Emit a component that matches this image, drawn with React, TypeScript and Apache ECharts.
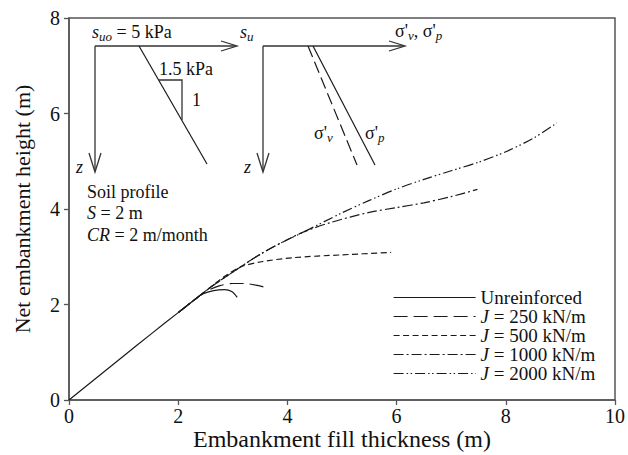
import React, { useEffect, useRef } from "react";
import * as echarts from "echarts";

const SERIF = "'Liberation Serif', 'Times New Roman', serif";

const seriesNames = [
  "Unreinforced",
  "J = 250 kN/m",
  "J = 500 kN/m",
  "J = 1000 kN/m",
  "J = 2000 kN/m",
];

// Unreinforced curve (from the origin); reinforced curves follow it and
// are listed from a point shortly before they leave it.
const unreinforced = [
  [0, 0], [0.5, 0.46], [1, 0.92], [1.5, 1.38], [2, 1.83], [2.3, 2.1], [2.45, 2.22],
  [2.65, 2.29], [2.85, 2.31], [2.98, 2.27], [3.08, 2.15],
];
const j250 = [
  [2, 1.83], [2.3, 2.1], [2.5, 2.27], [2.75, 2.39], [3.0, 2.44], [3.2, 2.44], [3.45, 2.4], [3.62, 2.35],
];
const j500 = [
  [2, 1.83], [2.3, 2.1], [2.58, 2.35], [2.8, 2.55], [3.13, 2.78], [3.5, 2.89], [4.1, 2.98],
  [5, 3.04], [5.9, 3.09],
];
const j1000 = [
  [2, 1.83], [2.3, 2.1], [2.58, 2.35], [3, 2.68], [3.5, 3.05], [3.9, 3.3], [4.3, 3.52],
  [4.8, 3.72], [5.5, 3.93], [6, 4.03], [6.5, 4.13], [7, 4.26], [7.48, 4.41],
];
const j2000 = [
  [2, 1.83], [2.3, 2.1], [2.58, 2.35], [3, 2.68], [3.5, 3.05], [3.9, 3.3], [4.3, 3.52],
  [5, 3.92], [5.5, 4.18], [6, 4.42], [6.5, 4.62], [7, 4.8], [7.5, 4.98], [8, 5.2],
  [8.5, 5.48], [8.93, 5.8],
];
const seriesData = [unreinforced, j250, j500, j1000, j2000];
const dashTypes: any[] = [
  "solid",
  [14, 6],
  [6, 3.5],
  [10, 3, 2, 3],
  [10, 3, 1.5, 2.5, 1.5, 3],
];

const xTicks = { min: 0, max: 10, interval: 2 };
const yTicks = { min: 0, max: 8, interval: 2 };

const INK = "#333";
const LINE = "#1a1a1a";

const rich = {
  n: { fontFamily: SERIF, fontSize: 18, lineHeight: 22, fill: "#111" },
  i: { fontFamily: SERIF, fontSize: 18, fontStyle: "italic", lineHeight: 22, fill: "#111" },
  s: { fontFamily: SERIF, fontSize: 13, fontStyle: "italic", lineHeight: 13, verticalAlign: "bottom", fill: "#111" },
};

function txt(x: number, y: number, text: string) {
  return {
    type: "text",
    x,
    y,
    style: { text, rich, fill: "#111", font: `18px ${SERIF}`, verticalAlign: "middle", align: "left" },
  };
}
function seg(x1: number, y1: number, x2: number, y2: number, extra: any = {}) {
  return {
    type: "line",
    shape: { x1, y1, x2, y2 },
    style: { stroke: INK, lineWidth: 1.3, ...extra },
  };
}
function poly(points: number[][]) {
  return {
    type: "polyline",
    shape: { points },
    style: { stroke: INK, lineWidth: 1.3, fill: null },
  };
}

export default function App() {
  const ref = useRef<HTMLDivElement>(null);
  useEffect(() => {
    if (!ref.current) return;
    const chart = echarts.init(ref.current, null, { renderer: "svg" });
    const option: any = {
      animation: false,
      backgroundColor: "#fff",
      grid: {
        left: 69,
        right: 13,
        top: 18,
        bottom: 55,
        outerBoundsMode: "none",
        containLabel: false,
        show: true,
        borderColor: "#555",
        borderWidth: 1.5,
        backgroundColor: "transparent",
      },
      legend: {
        data: seriesNames,
        orient: "vertical",
        left: 388,
        top: 283,
        itemWidth: 82,
        itemHeight: 12,
        itemGap: 0,
        itemStyle: { opacity: 0 },
        lineStyle: { width: 1.2 },
        textStyle: {
          fontFamily: SERIF,
          fontSize: 19,
          lineHeight: 18.5,
          color: "#111",
          rich: {
            i: { fontFamily: SERIF, fontSize: 19, lineHeight: 18.5, fontStyle: "italic", color: "#111" },
          },
        },
        formatter: (name: string) =>
          name.startsWith("J ") ? `{i|J}${name.slice(1)}` : name,
      },
      xAxis: {
        type: "value",
        ...xTicks,
        name: "Embankment fill thickness (m)",
        nameLocation: "middle",
        nameGap: 27,
        nameMoveOverlap: false,
        nameTextStyle: { fontFamily: SERIF, fontSize: 24, color: "#111" },
        axisLine: { show: true, lineStyle: { color: "#555", width: 1.5 } },
        axisTick: { show: true, inside: false, length: 5, lineStyle: { color: "#555", width: 1.3 } },
        axisLabel: { fontFamily: SERIF, fontSize: 20, color: "#111", margin: 6, lineHeight: 20 },
        splitLine: { show: false },
      },
      yAxis: {
        type: "value",
        ...yTicks,
        name: "Net embankment height (m)",
        nameLocation: "middle",
        nameGap: 36,
        nameMoveOverlap: false,
        nameTextStyle: { fontFamily: SERIF, fontSize: 22, color: "#111" },
        axisLine: { show: true, lineStyle: { color: "#555", width: 1.5 } },
        axisTick: { show: true, inside: false, length: 5, lineStyle: { color: "#555", width: 1.3 } },
        axisLabel: { fontFamily: SERIF, fontSize: 20, color: "#111", margin: 9 },
        splitLine: { show: false },
      },
      series: seriesNames.map((name, k) => ({
        name,
        type: "line",
        data: seriesData[k],
        symbol: "none",
        smooth: 0.3,
        lineStyle: { color: LINE, width: 1.2, type: dashTypes[k] },
        itemStyle: { color: LINE, opacity: 0 },
      })),
      graphic: [
        // left inset: undrained shear strength profile
        seg(95, 46, 236, 46),
        poly([[221, 41], [237, 46], [221, 51]]),
        seg(95, 46, 95, 171),
        poly([[89, 153], [95, 172], [101, 153]]),
        seg(139, 46, 207, 164, { stroke: LINE, lineWidth: 1.2 }),
        poly([[159, 80], [182, 80], [182, 120]]),
        txt(92, 32, "{i|s}{s|uo}{n| = 5 kPa}"),
        txt(240, 32, "{i|s}{s|u}"),
        txt(159, 69, "{n|1.5 kPa}"),
        txt(192, 100, "{n|1}"),
        txt(76, 167, "{i|z}"),
        // right inset: stress profile
        seg(263, 46, 404, 46),
        poly([[389, 41], [405, 46], [389, 51]]),
        seg(263, 46, 263, 171),
        poly([[257, 153], [263, 172], [269, 153]]),
        seg(308, 46, 357, 165, { stroke: LINE, lineWidth: 1.2, lineDash: [12, 5] }),
        seg(313, 46, 375, 165, { stroke: LINE, lineWidth: 1.2 }),
        txt(244, 167, "{i|z}"),
        txt(314, 133, "{n|σ'}{s|ν}"),
        txt(365, 133, "{n|σ'}{s|p}"),
        txt(395, 31, "{n|σ'}{s|ν}{n|, σ'}{s|p}"),
        // soil profile notes
        txt(87, 192, "{n|Soil profile}"),
        txt(87, 213, "{i|S}{n| = 2 m}"),
        txt(87, 235, "{i|CR}{n| = 2 m/month}"),
      ],
    };
    chart.setOption(option);
    return () => chart.dispose();
  }, []);
  return (
    <div
      ref={ref}
      style={{ position: "absolute", left: 0, top: 0, width: 628, height: 455 }}
    />
  );
}
